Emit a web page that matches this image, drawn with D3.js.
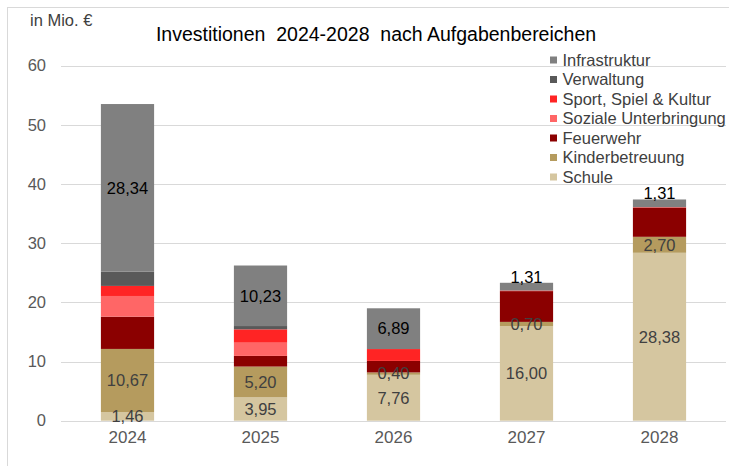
<!DOCTYPE html>
<html><head><meta charset="utf-8">
<script src="https://cdn.jsdelivr.net/npm/d3@7"></script>
<style>body{margin:0;background:#fff}svg{display:block;font-family:"Liberation Sans",Arial,sans-serif}</style>
</head><body><svg id="c" width="729" height="466"></svg>
<script>
const years = ["2024","2025","2026","2027","2028"];
const seriesNames = ["Schule","Kinderbetreuung","Feuerwehr","Soziale Unterbringung","Sport, Spiel & Kultur","Verwaltung","Infrastruktur"];
const schule = [1.46, 3.95, 7.76, 16.00, 28.38];
const kinderbetreuung = [10.67, 5.20, 0.40, 0.70, 2.70];
const feuerwehr = [5.45, 1.80, 1.95, 5.20, 4.90];
const sozialeUnterbringung = [3.50, 2.24, 0, 0, 0];
const sportSpielKultur = [1.70, 2.25, 2.00, 0.10, 0.10];
const verwaltung = [2.40, 0.56, 0, 0, 0];
const infrastruktur = [28.34, 10.23, 6.89, 1.31, 1.31];
const yTicks = [0,10,20,30,40,50,60];
const colors = ["#D5C6A0","#B59B5E","#8B0000","#FF6666","#FF2424","#595959","#808080"];
const labeled = {"Schule":"#404040","Kinderbetreuung":"#404040","Infrastruktur":"#000000"};

const seriesValues = [schule,kinderbetreuung,feuerwehr,sozialeUnterbringung,sportSpielKultur,verwaltung,infrastruktur];
const rows = years.map((y,i)=>{const r={year:y}; seriesNames.forEach((s,j)=>r[s]=seriesValues[j][i]); return r;});
const stack = d3.stack().keys(seriesNames)(rows);

const svg = d3.select("#c");
svg.append("rect").attr("x",7.5).attr("y",7.5).attr("width",740).attr("height",480).attr("fill","#fff").attr("stroke","#d9d9d9");

const x = d3.scaleBand().domain(years).range([61,726]);
const y = d3.scaleLinear().domain([0,60]).range([420.7,65.7]);
const bw = x.bandwidth()*0.4;

// gridlines
svg.append("g").selectAll("line").data(yTicks).join("line")
  .attr("x1",61).attr("x2",726).attr("y1",d=>Math.round(y(d))+0.5).attr("y2",d=>Math.round(y(d))+0.5)
  .attr("stroke","#d9d9d9").attr("stroke-width",1);

// y axis labels
const yAxis = d3.axisLeft(y).tickValues(yTicks).tickSize(0).tickPadding(0);
const gy = svg.append("g").attr("transform","translate(46,0)").call(yAxis);
gy.select(".domain").remove();
gy.selectAll("text").attr("font-size",16.5).attr("fill","#595959").attr("font-family","Liberation Sans, Arial, sans-serif");

// x axis labels
const xAxis = d3.axisBottom(x).tickSize(0).tickPadding(0);
const gx = svg.append("g").attr("transform","translate(0,431)").call(xAxis);
gx.select(".domain").remove();
gx.selectAll("text").attr("font-size",17).attr("fill","#595959").attr("font-family","Liberation Sans, Arial, sans-serif");

// bars
const layers = svg.append("g").selectAll("g").data(stack).join("g").attr("fill",(d,i)=>colors[i]);
layers.selectAll("rect").data(d=>d).join("rect")
  .attr("x",d=>x(d.data.year)+x.bandwidth()/2-bw/2).attr("width",bw)
  .attr("y",d=>y(d[1])).attr("height",d=>Math.max(0,y(d[0])-y(d[1])));

// labels
stack.forEach((layer)=>{
  const col = labeled[layer.key];
  if(!col) return;
  layer.forEach(d=>{
    const v = d[1]-d[0];
    if(v<=0) return;
    const cx = x(d.data.year)+x.bandwidth()/2;
    let cy = (y(d[0])+y(d[1]))/2;
    if(layer.key==="Infrastruktur" && v<2) cy = y(d[1])-6;
    svg.append("text").attr("x",cx).attr("y",cy).attr("dy","0.35em").attr("text-anchor","middle")
      .attr("font-size",16.5).attr("fill",col).text(d3.format(".2f")(v).replace(".",","));
  });
});

// title
svg.append("text").attr("x",376).attr("y",41).attr("text-anchor","middle").attr("font-size",19.5)
  .attr("fill","#000").style("white-space","pre").text("Investitionen  2024-2028  nach Aufgabenbereichen");
svg.append("text").attr("x",30).attr("y",26).attr("font-size",16.5).attr("fill","#404040").text("in Mio. €");

// legend
const leg = svg.append("g").selectAll("g").data(seriesNames.slice().reverse()).join("g")
  .attr("transform",(d,i)=>`translate(550,${60+i*19.5})`);
leg.append("rect").attr("x",0).attr("y",-3.5).attr("width",7).attr("height",7)
  .attr("fill",d=>colors[seriesNames.indexOf(d)]);
leg.append("text").attr("x",12.5).attr("y",0).attr("dy","0.35em").attr("font-size",16.5).attr("fill","#404040").text(d=>d);
</script></body></html>
